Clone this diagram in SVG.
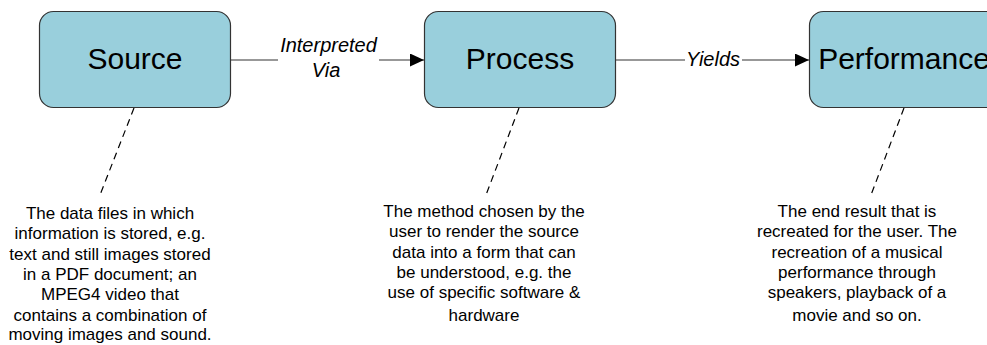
<svg xmlns="http://www.w3.org/2000/svg" width="987" height="345" viewBox="0 0 987 345">
<style>
.box{fill:#99CFDC;stroke:#333;stroke-width:1.2}
.title{font-family:"Liberation Sans",Arial,sans-serif;font-size:30px;fill:#000;text-anchor:middle}
.elabel{font-family:"Liberation Sans",Arial,sans-serif;font-size:20px;font-style:italic;fill:#000;text-anchor:middle}
.desc{font-family:"Liberation Sans",Arial,sans-serif;font-size:17px;fill:#000;text-anchor:middle}
.edge{stroke:#333;stroke-width:1.2;fill:none}
.dash{stroke:#000;stroke-width:1.2;stroke-dasharray:7,5;fill:none}
</style>
<defs>
<marker id="arrow" markerWidth="14" markerHeight="13" refX="14" refY="6.5" orient="auto" markerUnits="userSpaceOnUse">
<path d="M0,0 L14,6.5 L0,13 Z" fill="#000"/>
</marker>
</defs>
<rect width="987" height="345" fill="#fff"/>
<g id="connectors">
<line class="edge" x1="231" y1="60" x2="278" y2="60"/>
<line class="edge" x1="379" y1="60" x2="424" y2="60" marker-end="url(#arrow)"/>
<text class="elabel" x="328.5" y="52">Interpreted</text>
<text class="elabel" x="326" y="77">Via</text>
<line class="edge" x1="616" y1="60" x2="685" y2="60"/>
<line class="edge" x1="742" y1="60" x2="809" y2="60" marker-end="url(#arrow)"/>
<text class="elabel" x="713" y="66">Yields</text>
<line class="dash" x1="134" y1="108" x2="100" y2="195"/>
<line class="dash" x1="519" y1="108" x2="486" y2="195"/>
<line class="dash" x1="904" y1="108" x2="871" y2="195"/>
</g>
<g id="source">
<rect class="box" x="39.5" y="11.5" width="191" height="96" rx="14"/>
<text class="title" x="135" y="69">Source</text>
</g>
<g id="process">
<rect class="box" x="424.5" y="11.5" width="191" height="96" rx="14"/>
<text class="title" x="520" y="69">Process</text>
</g>
<g id="performance">
<rect class="box" x="809.5" y="11.5" width="191" height="96" rx="14"/>
<text class="title" x="904" y="69">Performance</text>
</g>
<g id="source-note">
<text class="desc" x="110" y="219">The data files in which</text>
<text class="desc" x="110" y="239.3">information is stored, e.g.</text>
<text class="desc" x="110" y="259.6">text and still images stored</text>
<text class="desc" x="110" y="279.9">in a PDF document; an</text>
<text class="desc" x="110" y="300.2">MPEG4 video that</text>
<text class="desc" x="110" y="320.5">contains a combination of</text>
<text class="desc" x="110" y="340">moving images and sound.</text>
</g>
<g id="process-note">
<text class="desc" x="484" y="217">The method chosen by the</text>
<text class="desc" x="484" y="237.3">user to render the source</text>
<text class="desc" x="484" y="257.6">data into a form that can</text>
<text class="desc" x="484" y="277.9">be understood, e.g. the</text>
<text class="desc" x="484" y="298.2">use of specific software &amp;</text>
<text class="desc" x="484" y="321">hardware</text>
</g>
<g id="performance-note">
<text class="desc" x="857" y="217">The end result that is</text>
<text class="desc" x="857" y="237.3">recreated for the user. The</text>
<text class="desc" x="857" y="257.6">recreation of a musical</text>
<text class="desc" x="857" y="277.9">performance through</text>
<text class="desc" x="857" y="298.2">speakers, playback of a</text>
<text class="desc" x="857" y="321">movie and so on.</text>
</g>
</svg>
